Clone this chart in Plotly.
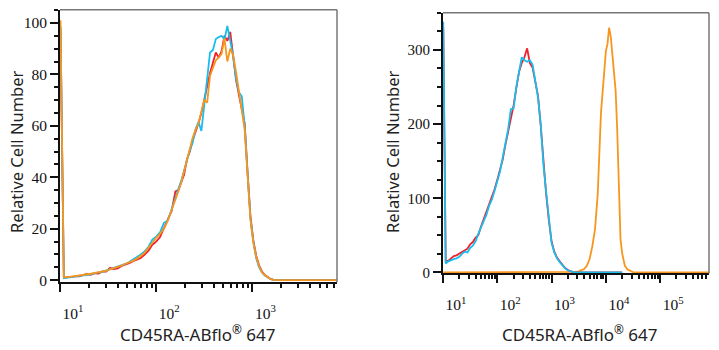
import numpy as np
import plotly.graph_objects as go

# ---------------- data (log10 of fluorescence, relative cell number) ----------------
left_logx = [1.005, 1.04, 1.08, 1.12, 1.16, 1.20, 1.24, 1.28, 1.32, 1.36, 1.40, 1.44, 1.48, 1.52, 1.56,
             1.60, 1.64, 1.68, 1.72, 1.76, 1.80, 1.84, 1.88, 1.92, 1.96, 2.00, 2.04, 2.08, 2.12, 2.16,
             2.20, 2.23, 2.26, 2.29, 2.32, 2.35, 2.38, 2.41, 2.44, 2.47, 2.50, 2.53, 2.56, 2.59, 2.62,
             2.65, 2.68, 2.71, 2.74, 2.77, 2.80, 2.83, 2.86, 2.89, 2.92, 2.95, 2.98, 3.01, 3.04, 3.07,
             3.10, 3.13, 3.16, 3.19, 3.22, 3.25, 3.30, 3.88]
left_red = [98, 0.9, 1.2, 1.2, 1.6, 1.5, 2.0, 2.4, 2.1, 2.7, 2.6, 3.4, 3.3, 4.8, 4.3,
            4.6, 5.5, 6.0, 6.6, 7.4, 8.0, 8.6, 9.9, 11.5, 13.8, 15.0, 16.8, 20.5, 23.5, 26.8,
            34.5, 35.0, 38.0, 41.0, 47.0, 50.0, 54.5, 57.5, 61.0, 65.0, 70.5, 76.0, 80.5, 84.5, 88.5,
            86.5, 89.0, 95.0, 93.0, 96.5, 87.5, 78.0, 72.0, 66.0, 61.0, 42.0, 25.0, 15.5, 9.5, 5.8,
            3.4, 2.0, 1.1, 0.5, 0.1, 0, 0, 0]
left_cyan = [99, 0.8, 1.0, 1.3, 1.4, 1.7, 1.9, 2.0, 2.4, 2.6, 3.0, 3.2, 3.7, 4.2, 4.5,
             5.2, 5.8, 6.3, 7.1, 8.0, 8.8, 10.0, 11.2, 13.0, 15.8, 16.9, 18.6, 22.3, 23.1, 27.5,
             31.2, 34.8, 38.6, 42.5, 47.0, 50.5, 53.5, 58.8, 61.5, 58.0, 68.0, 77.5, 88.5, 89.5, 93.7,
             94.5, 95.0, 93.5, 98.8, 93.0, 87.0, 78.5, 73.0, 71.5, 60.0, 42.0, 24.0, 15.0, 8.5, 5.0,
             3.0, 1.8, 1.0, 0.4, 0.1, 0, 0, 0]
left_orange = [101, 1.1, 1.2, 1.4, 1.5, 1.7, 2.0, 2.2, 2.5, 2.8, 3.0, 3.3, 3.6, 4.2, 4.7,
               5.0, 5.7, 6.4, 6.8, 7.5, 8.4, 9.4, 10.6, 12.6, 14.8, 16.5, 18.0, 20.0, 23.0, 27.0,
               31.5, 34.5, 38.0, 42.5, 47.0, 52.0, 55.5, 58.5, 61.0, 65.5, 70.0, 69.0, 79.5, 82.5, 85.5,
               86.5, 88.0, 94.0, 85.0, 90.0, 87.5, 81.0, 74.0, 67.0, 58.5, 41.0, 23.5, 14.5, 9.0, 5.5,
               3.0, 1.9, 1.0, 0.4, 0.1, 0, 0, 0]

right_logx = [1.005, 1.05, 1.10, 1.15, 1.20, 1.25, 1.30, 1.35, 1.40, 1.45, 1.50, 1.55, 1.60, 1.65, 1.70,
              1.75, 1.80, 1.85, 1.90, 1.95, 2.00, 2.05, 2.10, 2.15, 2.20, 2.25, 2.30, 2.35, 2.40, 2.45,
              2.50, 2.55, 2.60, 2.65, 2.70, 2.75, 2.80, 2.85, 2.90, 2.95, 3.00, 3.05, 3.10, 3.15, 3.20,
              3.25, 3.30, 3.35, 3.40, 3.45, 4.30]
right_red = [330, 15, 16, 19, 22, 23, 25, 27, 29, 32, 38, 41, 47, 50, 62,
             72, 80, 92, 100, 112, 125, 137, 152, 172, 190, 205, 225, 248, 270, 282,
             290, 302, 282, 276, 255, 238, 198, 148, 106, 70, 42, 28, 20, 15, 10,
             6, 3.2, 1.5, 0.5, 0, 0]
right_cyan = [338, 12, 15, 17, 18, 19, 21, 25, 28, 27, 33, 36, 42, 52, 60,
              70, 78, 90, 98, 110, 123, 136, 155, 175, 193, 220, 221, 250, 268, 290,
              286, 284, 286, 280, 258, 236, 200, 145, 108, 72, 40, 27, 19, 14, 9,
              5.5, 3.0, 1.5, 0.4, 0, 0]
orange_logx = [1.005, 3.35, 3.40, 3.45, 3.50, 3.55, 3.60, 3.65, 3.70, 3.75, 3.80, 3.85, 3.88, 3.91, 3.94,
               3.97, 4.00, 4.03, 4.06, 4.09, 4.12, 4.15, 4.18, 4.21, 4.24, 4.27, 4.30, 4.35, 4.40, 4.45,
               4.50, 5.92]
right_orange = [0, 0, 0.3, 0.8, 1.5, 2.5, 4.5, 9, 18, 35, 58, 105, 165, 215, 243,
                275, 298, 308, 330, 318, 292, 270, 245, 190, 100, 45, 26, 9, 4, 2,
                0.5, 0]

x_tick_vals = [10, 100, 1000, 10000, 100000]
x_tick_text = ["10<sup>1</sup>", "10<sup>2</sup>", "10<sup>3</sup>", "10<sup>4</sup>", "10<sup>5</sup>"]
x_minor_vals = [m * 10 ** d for d in range(1, 6) for m in range(2, 10)]
left_y_ticks = [0, 20, 40, 60, 80, 100]
right_y_ticks = [0, 100, 200, 300]
x_title = "CD45RA-ABflo<sup>®</sup> 647"
y_title = "Relative Cell Number"

RED = "#f2202a"
CYAN = "#18bdee"
ORANGE = "#f7961e"

W, H = 719, 350

def px_dom(a, b, total):
    return [a / total, b / total]

fig = go.Figure()

def add(xs, ys, color, xa, ya):
    fig.add_trace(go.Scatter(x=10 ** np.array(xs), y=ys, mode="lines",
                             line=dict(color=color, width=1.8),
                             xaxis=xa, yaxis=ya, hoverinfo="skip"))

add(left_logx, left_red, RED, "x", "y")
add(left_logx, left_cyan, CYAN, "x", "y")
add(left_logx, left_orange, ORANGE, "x", "y")
add(orange_logx, right_orange, ORANGE, "x2", "y2")
add(right_logx, right_red, RED, "x2", "y2")
add(right_logx, right_cyan, CYAN, "x2", "y2")

SERIF = "Liberation Serif, DejaVu Serif, serif"
tick_font = dict(family=SERIF, size=15.5, color="#111")

def xaxis(dom, rng, anchor):
    return dict(type="log", domain=dom, range=rng, anchor=anchor,
                showgrid=False, zeroline=False, showline=True, linecolor="#111", linewidth=2,
                ticks="outside", ticklen=8, tickwidth=2, tickcolor="#111",
                tickmode="array", tickvals=x_tick_vals, ticktext=x_tick_text,
                tickfont=tick_font, ticklabelshift=13, ticklabelstandoff=8,
                minor=dict(ticks="outside", ticklen=4, tickwidth=1.5, tickcolor="#111",
                           tickmode="array", tickvals=x_minor_vals, showgrid=False))

def yaxis(dom, rng, anchor, ticks, minor_dtick, size):
    f = dict(tick_font)
    f["size"] = size
    return dict(domain=dom, range=rng, anchor=anchor,
                showgrid=False, zeroline=False, showline=True, linecolor="#111", linewidth=2,
                ticks="outside", ticklen=8, tickwidth=2, tickcolor="#111",
                tickmode="array", tickvals=ticks, tickfont=f,
                minor=dict(ticks="outside", ticklen=4, tickwidth=1.5, tickcolor="#111",
                           tick0=0, dtick=minor_dtick, showgrid=False))

fig.update_layout(
    width=W, height=H, margin=dict(l=0, r=0, t=0, b=0),
    paper_bgcolor="white", plot_bgcolor="white", showlegend=False,
    xaxis=xaxis(px_dom(60, 337, W), [1.0, 3.88], "y"),
    yaxis=yaxis([1 - 288 / H, 1 - 10 / H], [-0.8, 105.1], "x", left_y_ticks, 5, 15.5),
    xaxis2=xaxis(px_dom(443, 709, W), [1.0, 5.9], "y2"),
    yaxis2=yaxis([1 - 279 / H, 1 - 13 / H], [-1.3, 350], "x2", right_y_ticks, 25, 15),
)

# top / right frame lines (gray)
for xr, yr in (("x domain", "y domain"), ("x2 domain", "y2 domain")):
    fig.add_shape(type="line", xref=xr, yref=yr, x0=0, x1=1, y0=1, y1=1,
                  line=dict(color="#777", width=1.5))
    fig.add_shape(type="line", xref=xr, yref=yr, x0=1, x1=1, y0=0, y1=1,
                  line=dict(color="#777", width=1.5))

title_font = dict(family="Noto Sans", size=17, color="#222")
for cx in (197, 579):
    fig.add_annotation(text=x_title, xref="paper", yref="paper", x=cx / W, y=0.0,
                       showarrow=False, font=title_font, xanchor="center", yanchor="bottom",
                       yshift=-5)
for cx in (17, 393):
    fig.add_annotation(text=y_title, xref="paper", yref="paper", x=cx / W, y=1 - 155 / H,
                       showarrow=False, font=dict(family="Noto Sans", size=16.5, color="#222"),
                       textangle=-90, xanchor="center", yanchor="middle")

fig.write_html("out.html")
